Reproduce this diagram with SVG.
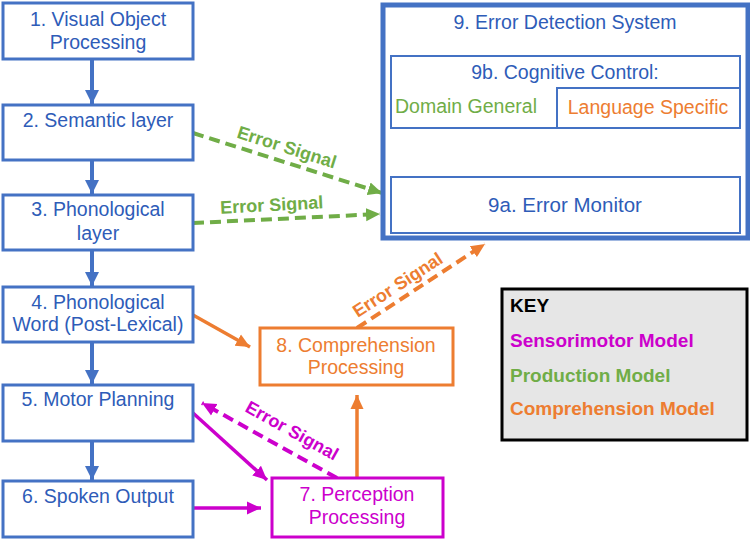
<svg xmlns="http://www.w3.org/2000/svg" width="750" height="540" viewBox="0 0 750 540">
<style>
text{font-family:"Liberation Sans",Arial,sans-serif;font-size:19.5px;text-anchor:middle}
.bt{fill:#2E5CB8}
.bb{fill:#fff;stroke:#4472C4;stroke-width:3}
.ib{fill:#fff;stroke:#4472C4;stroke-width:2}
.ob{fill:#fff;stroke:#ED7D31;stroke-width:3}
.mb{fill:#fff;stroke:#CC00CC;stroke-width:3}
.ot{fill:#ED7D31}
.mt{fill:#CC00CC}
.gt{fill:#70AD47}
.lbl{font-weight:bold;font-size:18px}
.key{font-weight:bold;text-anchor:start;font-size:19px}
.bl{stroke:#4472C4;stroke-width:4;fill:none}
.gd{stroke:#70AD47;stroke-width:4;stroke-dasharray:11 6;fill:none}
.od{stroke:#ED7D31;stroke-width:4;stroke-dasharray:11 6;fill:none}
.md{stroke:#CC00CC;stroke-width:4;stroke-dasharray:11 6;fill:none}
.os{stroke:#ED7D31;stroke-width:3.5;fill:none}
.ms{stroke:#CC00CC;stroke-width:3.5;fill:none}
.gs{stroke:#70AD47;stroke-width:3.5;fill:none}
</style>
<defs>
<marker id="ab" markerUnits="userSpaceOnUse" markerWidth="16" markerHeight="16" refX="14" refY="8" orient="auto"><path d="M0,1 L14,8 L0,15 Z" fill="#4472C4"/></marker>
<marker id="ag" markerUnits="userSpaceOnUse" markerWidth="16" markerHeight="16" refX="14" refY="8" orient="auto"><path d="M0,1.5 L14,8 L0,14.5 Z" fill="#70AD47"/></marker>
<marker id="ao" markerUnits="userSpaceOnUse" markerWidth="16" markerHeight="16" refX="14" refY="8" orient="auto"><path d="M0,1.5 L14,8 L0,14.5 Z" fill="#ED7D31"/></marker>
<marker id="am" markerUnits="userSpaceOnUse" markerWidth="16" markerHeight="16" refX="14" refY="8" orient="auto"><path d="M0,1.5 L14,8 L0,14.5 Z" fill="#CC00CC"/></marker>
</defs>

<g id="connectors">
<line class="bl" x1="92" y1="59" x2="92" y2="104" marker-end="url(#ab)"/>
<line class="bl" x1="92" y1="160" x2="92" y2="194" marker-end="url(#ab)"/>
<line class="bl" x1="92" y1="250" x2="92" y2="286" marker-end="url(#ab)"/>
<line class="bl" x1="92" y1="342" x2="92" y2="384" marker-end="url(#ab)"/>
<line class="bl" x1="92" y1="441" x2="92" y2="480" marker-end="url(#ab)"/>
<line class="gd" x1="193" y1="133" x2="382" y2="193" marker-end="url(#ag)"/>
<text class="gt lbl" transform="translate(285,153) rotate(17.6)">Error Signal</text>
<line class="gd" x1="193" y1="223" x2="380" y2="214" marker-end="url(#ag)"/>
<text class="gt lbl" transform="translate(272,211) rotate(-3)">Error Signal</text>
<line class="os" x1="193" y1="315" x2="250" y2="347" marker-end="url(#ao)"/>
<line class="od" x1="357" y1="328" x2="485" y2="244" marker-end="url(#ao)"/>
<text class="ot lbl" transform="translate(401,290) rotate(-33)">Error Signal</text>
<line class="os" x1="357" y1="478" x2="357" y2="395" marker-end="url(#ao)"/>
<line class="ms" x1="193" y1="413" x2="267" y2="480" marker-end="url(#am)"/>
<line class="md" x1="337" y1="478" x2="202" y2="403" marker-end="url(#am)"/>
<text class="mt lbl" transform="translate(289,436) rotate(29)">Error Signal</text>
<line class="ms" x1="193" y1="508" x2="261" y2="508" marker-end="url(#am)"/>
<line class="gs" x1="565" y1="177" x2="482" y2="132" marker-end="url(#ag)"/>
<line class="os" x1="565" y1="177" x2="655" y2="131" marker-end="url(#ao)"/>
</g>

<g id="n1"><rect class="bb" x="3" y="3" width="190" height="56"/><text class="bt" x="98" y="26">1. Visual Object</text><text class="bt" x="98" y="49">Processing</text></g>
<g id="n2"><rect class="bb" x="3" y="105" width="190" height="55"/><text class="bt" x="98" y="127">2. Semantic layer</text></g>
<g id="n3"><rect class="bb" x="3" y="195" width="190" height="55"/><text class="bt" x="98" y="216">3. Phonological</text><text class="bt" x="98" y="240">layer</text></g>
<g id="n4"><rect class="bb" x="3" y="287" width="190" height="55"/><text class="bt" x="98" y="309">4. Phonological</text><text class="bt" x="98" y="331">Word (Post-Lexical)</text></g>
<g id="n5"><rect class="bb" x="3" y="385" width="190" height="56"/><text class="bt" x="98" y="406">5. Motor Planning</text></g>
<g id="n6"><rect class="bb" x="3" y="481" width="190" height="56"/><text class="bt" x="98" y="503">6. Spoken Output</text></g>
<g id="n8"><rect class="ob" x="260" y="328" width="193" height="57"/><text class="ot" x="356" y="352">8. Comprehension</text><text class="ot" x="356" y="374">Processing</text></g>
<g id="n7"><rect class="mb" x="272" y="478" width="171" height="59"/><text class="mt" x="357" y="501">7. Perception</text><text class="mt" x="357" y="524">Processing</text></g>
<g id="n9">
<rect x="383" y="5" width="365" height="233" fill="#fff" stroke="#4472C4" stroke-width="5"/>
<text class="bt" x="565" y="29">9. Error Detection System</text>
<g id="n9b"><rect class="ib" x="391" y="56" width="349" height="72"/><text class="bt" x="565" y="79">9b. Cognitive Control:</text>
<text class="gt" x="466" y="113">Domain General</text>
<rect class="ib" x="557" y="88" width="183" height="40"/><text class="ot" x="648" y="114">Language Specific</text></g>
<g id="n9a"><rect class="ib" x="391" y="177" width="349" height="56"/><text class="bt" x="565" y="212" style="font-size:20.5px">9a. Error Monitor</text></g>
</g>
<g id="key"><rect x="502" y="289" width="245" height="151" fill="#E6E6E6" stroke="#000" stroke-width="3"/>
<text class="key" x="510" y="312" fill="#000">KEY</text>
<text class="key" x="510" y="347" fill="#CC00CC">Sensorimotor Model</text>
<text class="key" x="510" y="382" fill="#70AD47">Production Model</text>
<text class="key" x="510" y="415" fill="#ED7D31">Comprehension Model</text></g>
</svg>
